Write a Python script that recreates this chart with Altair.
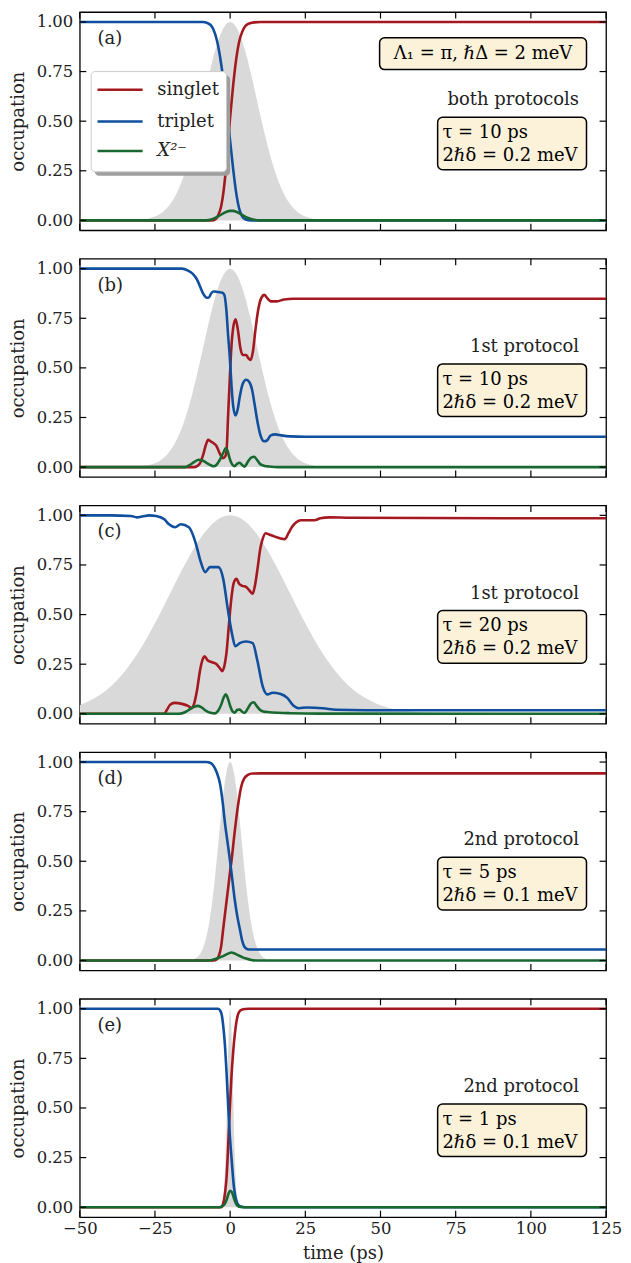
import altair as alt
import pandas as pd

# ---------------- values ----------------
TIME_TICKS = [-50, -25, 0, 25, 50, 75, 100, 125]
OCC_TICKS = [0.0, 0.25, 0.5, 0.75, 1.0]
SERIES = ["singlet", "triplet", "X²⁻"]
COLORS = ["#a3191f", "#0f4f9e", "#17692f"]
PULSE_COLOR = "#d9d9d9"

PANEL_TAGS = ["(a)", "(b)", "(c)", "(d)", "(e)"]
PROTOCOLS = ["both protocols", "1st protocol", "1st protocol", "2nd protocol", "2nd protocol"]
TAUS = ["τ = 10 ps", "τ = 10 ps", "τ = 20 ps", "τ = 5 ps", "τ = 1 ps"]
DELTAS = ["2ℏδ = 0.2 meV", "2ℏδ = 0.2 meV", "2ℏδ = 0.2 meV", "2ℏδ = 0.1 meV", "2ℏδ = 0.1 meV"]
PARAM_TEXT = "Λ₁ = π, ℏΔ = 2 meV"

# ---- panel (a) ----
A_PULSE_T = [-50, -35, -30, -27.5, -25, -22.5, -20, -17.5, -15, -12.5, -10, -7.5, -5, -2.5, 0,
             2.5, 5, 7.5, 10, 12.5, 15, 17.5, 20, 22.5, 25, 27.5, 30, 35, 125]
A_PULSE_V = [0, 0.0005, 0.0035, 0.0086, 0.0197, 0.041, 0.081, 0.146, 0.243, 0.374, 0.533, 0.702, 0.855, 0.961, 1.0,
             0.961, 0.855, 0.702, 0.533, 0.374, 0.243, 0.146, 0.081, 0.041, 0.0197, 0.0086, 0.0035, 0.0005, 0]
A_SING_T = [-50, -6, -5, -4, -3, -2, -1, 0, 1, 2, 3, 4, 5, 6, 8, 10, 125]
A_SING_V = [0, 0, 0.005, 0.025, 0.07, 0.17, 0.33, 0.52, 0.68, 0.81, 0.90, 0.95, 0.978, 0.99, 0.998, 1.0, 1.0]
A_TRIP_T = [-50, -9, -7, -6, -5, -4, -3, -2, -1, 0, 1, 2, 3, 4, 5, 7, 125]
A_TRIP_V = [1.0, 1.0, 0.99, 0.975, 0.94, 0.88, 0.79, 0.68, 0.54, 0.40, 0.26, 0.14, 0.06, 0.02, 0.006, 0.0, 0.0]
A_X_T = [-50, -8, -6, -4, -2, -1, 0, 1, 2, 3, 4, 6, 8, 10, 125]
A_X_V = [0, 0, 0.006, 0.02, 0.038, 0.045, 0.048, 0.048, 0.044, 0.037, 0.028, 0.012, 0.003, 0, 0]

# ---- panel (b) ----
B_PULSE_T = A_PULSE_T
B_PULSE_V = A_PULSE_V
B_SING_T = [-50, -12, -11, -10, -9, -8, -7.3, -6.5, -5.5, -4.5, -3.5, -2.5, -1.6, -1.2, -0.7, -0.1, 0.4,
            1.0, 1.8, 2.6, 3.4, 4.2, 5.3, 6.0, 6.8, 7.6, 8.4, 9.3, 10.3, 11.4, 12.4, 13.5, 15.5, 18, 21, 125]
B_SING_V = [0, 0, 0.005, 0.02, 0.06, 0.115, 0.137, 0.13, 0.12, 0.105, 0.07, 0.045, 0.055, 0.08, 0.25, 0.45, 0.60,
            0.70, 0.745, 0.69, 0.60, 0.565, 0.565, 0.55, 0.54, 0.585, 0.69, 0.79, 0.85, 0.868, 0.85, 0.835, 0.835,
            0.845, 0.848, 0.848]
B_TRIP_T = [-50, -16, -14, -12.5, -11, -10, -9, -8, -7.2, -6.3, -5.5, -4, -2.8, -2, -1.3, -0.7, -0.1, 0.5,
            1.0, 1.8, 2.5, 3.2, 4.2, 5.3, 6.3, 7.3, 8.2, 9.2, 10.2, 11.3, 12.3, 13.5, 15, 17, 20, 25, 125]
B_TRIP_V = [1.0, 1.0, 0.99, 0.975, 0.945, 0.91, 0.875, 0.855, 0.853, 0.875, 0.885, 0.882, 0.88, 0.87, 0.80,
            0.67, 0.55, 0.40, 0.31, 0.26, 0.29, 0.355, 0.42, 0.44, 0.43, 0.39, 0.31, 0.22, 0.155, 0.13, 0.135,
            0.16, 0.165, 0.16, 0.155, 0.153, 0.153]
B_X_T = [-50, -15, -13.5, -12, -10.5, -9.5, -8, -6.5, -5.5, -4.5, -3.3, -2.2, -1.5, -0.9, -0.2, 0.6, 1.5,
         2.4, 3.2, 4.0, 4.8, 5.8, 7.0, 8.0, 9.0, 10.0, 11.5, 13, 16, 125]
B_X_V = [0, 0, 0.01, 0.025, 0.037, 0.035, 0.023, 0.01, 0.004, 0.012, 0.04, 0.075, 0.095, 0.085, 0.045, 0.015,
         0.005, 0.018, 0.022, 0.01, 0.002, 0.025, 0.048, 0.052, 0.035, 0.015, 0.006, 0.003, 0, 0]

# ---- panel (c) ----
C_PULSE_T = [-50, -45, -40, -35, -30, -25, -20, -15, -10, -5, 0, 5, 10, 15, 20, 25, 30, 35, 40, 45, 50,
             55, 60, 65, 70, 80, 125]
C_PULSE_V = [0.043, 0.079, 0.134, 0.215, 0.323, 0.456, 0.605, 0.754, 0.882, 0.969, 1.0, 0.969, 0.882, 0.754,
             0.605, 0.456, 0.323, 0.215, 0.134, 0.079, 0.043, 0.022, 0.011, 0.005, 0.002, 0, 0]
C_SING_T = [-50, -22, -21, -20, -18.5, -16, -14, -12.8, -12, -11, -10, -9, -8.5, -7.5, -6, -4.5, -3.2, -2.6,
            -1.8, -1.2, -0.4, 0.4, 1.2, 2.1, 3.0, 4.0, 5.3, 6.5, 7.5, 8.3, 9.1, 10.0, 10.8, 11.8, 12.8, 14.5,
            16.5, 18.2, 19.4, 20.5, 22, 23.5, 26, 28, 30, 33, 40, 125]
C_SING_V = [0, 0, 0.02, 0.045, 0.055, 0.05, 0.04, 0.03, 0.05, 0.12, 0.22, 0.28, 0.29, 0.27, 0.26, 0.25, 0.225,
            0.215, 0.25, 0.31, 0.45, 0.58, 0.66, 0.68, 0.655, 0.645, 0.64, 0.62, 0.605, 0.65, 0.73, 0.83, 0.88,
            0.91, 0.905, 0.895, 0.885, 0.88, 0.91, 0.94, 0.965, 0.975, 0.975, 0.975, 0.985, 0.99, 0.988, 0.985]
C_TRIP_T = [-50, -40, -33, -31, -29, -27, -24.6, -21.9, -20.3, -18.3, -16.4, -13.7, -11.5, -9.9, -8.3, -6.7,
            -3.9, -2.3, -0.8, 0.66, 1.7, 3.2, 5.3, 7.5, 9.1, 10.8, 12.4, 14.1, 16.8, 19.0, 21.1, 22.8, 25.5,
            30.9, 35.3, 45, 125]
C_TRIP_V = [1.0, 1.0, 0.997, 0.99, 0.995, 1.0, 0.997, 0.98, 0.955, 0.94, 0.955, 0.94, 0.863, 0.772, 0.714,
            0.739, 0.739, 0.68, 0.53, 0.40, 0.34, 0.356, 0.364, 0.356, 0.265, 0.14, 0.098, 0.106, 0.10, 0.08,
            0.04, 0.028, 0.032, 0.028, 0.02, 0.018, 0.018]
C_X_T = [-50, -17, -15, -13.7, -12, -10.8, -9.5, -8, -6.5, -5, -4, -3, -2.2, -1.5, -0.8, 0, 0.8, 1.5, 2.4,
         3.2, 4.0, 4.8, 5.8, 6.8, 7.8, 8.8, 9.8, 11, 13, 16, 20, 30, 125]
C_X_V = [0, 0, 0.008, 0.02, 0.035, 0.04, 0.032, 0.015, 0.005, 0.002, 0.015, 0.045, 0.08, 0.098, 0.08, 0.04,
         0.012, 0.006, 0.02, 0.022, 0.01, 0.004, 0.025, 0.05, 0.058, 0.04, 0.022, 0.012, 0.008, 0.005, 0.003,
         0.001, 0]

# ---- panel (d) ----
D_PULSE_T = [-50, -16, -14, -12, -10, -9, -8, -7, -6, -5, -4, -3, -2, -1, 0, 1, 2, 3, 4, 5, 6, 7, 8, 9,
             10, 12, 14, 16, 125]
D_PULSE_V = [0, 0, 0.002, 0.008, 0.033, 0.063, 0.112, 0.188, 0.292, 0.425, 0.578, 0.735, 0.872, 0.966, 1.0,
             0.966, 0.872, 0.735, 0.578, 0.425, 0.292, 0.188, 0.112, 0.063, 0.033, 0.008, 0.002, 0, 0]
D_SING_T = [-50, -5.5, -4.5, -3.9, -3, -2.3, -1.5, -0.7, 0, 0.65, 1.3, 2.0, 2.8, 3.7, 4.6, 5.9, 7.5, 10, 125]
D_SING_V = [0, 0, 0.005, 0.018, 0.07, 0.16, 0.26, 0.36, 0.45, 0.527, 0.62, 0.71, 0.80, 0.877, 0.915, 0.935,
            0.942, 0.943, 0.943]
D_TRIP_T = [-50, -8, -6.5, -5.5, -4.5, -3.4, -2.5, -1.7, -0.9, -0.1, 0.7, 1.5, 2.3, 3.2, 4.0, 4.8, 5.8, 7,
            10, 125]
D_TRIP_V = [1.0, 1.0, 0.995, 0.98, 0.95, 0.893, 0.80, 0.69, 0.60, 0.51, 0.41, 0.31, 0.23, 0.16, 0.10, 0.068,
            0.057, 0.055, 0.055, 0.055]
D_X_T = [-50, -8, -6, -4.5, -3, -1.7, -0.5, 0.4, 1.5, 2.6, 4, 5.3, 7, 9, 125]
D_X_V = [0, 0, 0.003, 0.01, 0.018, 0.027, 0.036, 0.04, 0.035, 0.027, 0.017, 0.01, 0.003, 0, 0]

# ---- panel (e) ----
E_PULSE_T = [-50, -4, -3.5, -3, -2.5, -2, -1.5, -1, -0.5, 0, 0.5, 1, 1.5, 2, 2.5, 3, 3.5, 4, 125]
E_PULSE_V = [0, 0, 0.001, 0.006, 0.028, 0.101, 0.275, 0.564, 0.867, 1.0, 0.867, 0.564, 0.275, 0.101, 0.028,
             0.006, 0.001, 0, 0]
E_SING_T = [-50, -3, -2.5, -2, -1.6, -1.2, -0.8, -0.4, 0, 0.4, 1, 1.5, 2, 2.6, 3.3, 4.3, 6, 125]
E_SING_V = [0, 0, 0.01, 0.04, 0.085, 0.147, 0.26, 0.40, 0.53, 0.647, 0.78, 0.863, 0.925, 0.97, 0.99, 0.997,
            1.0, 1.0]
E_TRIP_T = [-50, -4, -3.3, -2.8, -2.2, -1.7, -1.2, -0.65, -0.1, 0.4, 0.9, 1.3, 1.8, 2.4, 3, 3.7, 5, 125]
E_TRIP_V = [1.0, 1.0, 0.99, 0.97, 0.90, 0.81, 0.68, 0.51, 0.36, 0.26, 0.16, 0.097, 0.05, 0.02, 0.008, 0.003,
            0, 0]
E_X_T = [-50, -3.5, -3, -2, -1.5, -1, -0.5, 0, 0.5, 1, 1.5, 2, 2.5, 3, 4, 125]
E_X_V = [0, 0, 0.002, 0.012, 0.025, 0.045, 0.07, 0.083, 0.078, 0.058, 0.035, 0.017, 0.007, 0.002, 0, 0]

# ---- annotation anchors (data coordinates) ----
TAG_POS = (-44.1, 0.915)
PROTO_POS = (116.0, 0.605)
BOX_TEXT_X = 70.6
BOX_LINE_Y = [0.44, 0.325]
BOX_X = (69.0, 118.5)
BOX_Y = (0.255, 0.52)
PARAM_BOX_X = (49.7, 118.5)
PARAM_BOX_Y = (0.76, 0.92)
PARAM_POS = (84.1, 0.84)
LEGEND_BOX_X = (-46.2, -1.2)
LEGEND_BOX_Y = (0.245, 0.75)
LEGEND_SHADOW_X = (-45.0, 0.0)
LEGEND_SHADOW_Y = (0.225, 0.73)
LEGEND_LINE_X = (-44.1, -29.1)
LEGEND_ROWS = [0.658, 0.498, 0.35]
LEGEND_TEXT_X = -24.2

# ---------------- chart ----------------
FONT = "DejaVu Serif"
FS = 18
LFS = 16.5
W, H = 528, 219
TICK = 6.5
XSCALE = alt.Scale(domain=[-50, 125], nice=False, zero=False)
YSCALE = alt.Scale(domain=[-0.05, 1.05], nice=False, zero=False)
BOX_FILL = "#fcf2da"


def df(t, v):
    return pd.DataFrame({"t": t, "v": v})


def panel(i, pulse, sing, trip, xm, last=False):
    if last:
        xaxis = alt.Axis(values=TIME_TICKS, format="d", title="time (ps)", labelPadding=3,
                         titlePadding=8, labelFlush=False, labelOverlap=False)
    else:
        xaxis = None
    yaxis = alt.Axis(values=OCC_TICKS, format=".2f", title="occupation", labelPadding=7,
                     titlePadding=9, labelFlush=False)
    X = alt.X("t:Q", scale=XSCALE, axis=xaxis)
    Y = alt.Y("v:Q", scale=YSCALE, axis=yaxis)

    layers = []
    layers.append(alt.Chart(df(*pulse)).mark_area(color=PULSE_COLOR, interpolate="monotone", clip=True)
                  .encode(x=X, y=Y, y2=alt.datum(0)))
    for data, col in zip([sing, trip, xm], COLORS):
        layers.append(alt.Chart(df(*data)).mark_line(color=col, strokeWidth=2.6, interpolate="monotone",
                                                     clip=True).encode(x=X, y=Y))

    # inward ticks on all four sides
    tx = pd.DataFrame({"t": TIME_TICKS})
    ty = pd.DataFrame({"v": OCC_TICKS})
    layers.append(alt.Chart(tx).mark_rule(color="black", strokeWidth=1.2)
                  .encode(x=X, y=alt.value(H), y2=alt.value(H - TICK)))
    layers.append(alt.Chart(tx).mark_rule(color="black", strokeWidth=1.2)
                  .encode(x=X, y=alt.value(0), y2=alt.value(TICK)))
    layers.append(alt.Chart(ty).mark_rule(color="black", strokeWidth=1.2)
                  .encode(y=Y, x=alt.value(0), x2=alt.value(TICK)))
    layers.append(alt.Chart(ty).mark_rule(color="black", strokeWidth=1.2)
                  .encode(y=Y, x=alt.value(W), x2=alt.value(W - TICK)))

    # parameter box
    box = pd.DataFrame({"t": [BOX_X[0]], "t2": [BOX_X[1]], "v": [BOX_Y[0]], "v2": [BOX_Y[1]]})
    layers.append(alt.Chart(box).mark_rect(fill=BOX_FILL, stroke="black", strokeWidth=1.5, cornerRadius=5)
                  .encode(x=X, x2="t2:Q", y=Y, y2="v2:Q"))
    lines = pd.DataFrame({"t": [BOX_TEXT_X, BOX_TEXT_X], "v": BOX_LINE_Y, "label": [TAUS[i], DELTAS[i]]})
    layers.append(alt.Chart(lines).mark_text(align="left", baseline="middle", fontSize=FS, font=FONT,
                                             color="black").encode(x=X, y=Y, text="label:N"))
    proto = pd.DataFrame({"t": [PROTO_POS[0]], "v": [PROTO_POS[1]], "label": [PROTOCOLS[i]]})
    layers.append(alt.Chart(proto).mark_text(align="right", baseline="middle", fontSize=FS, font=FONT,
                                             color="#222222").encode(x=X, y=Y, text="label:N"))
    tag = pd.DataFrame({"t": [TAG_POS[0]], "v": [TAG_POS[1]], "label": [PANEL_TAGS[i]]})
    layers.append(alt.Chart(tag).mark_text(align="left", baseline="middle", fontSize=FS, font=FONT,
                                           color="#222222").encode(x=X, y=Y, text="label:N"))

    if i == 0:
        pbox = pd.DataFrame({"t": [PARAM_BOX_X[0]], "t2": [PARAM_BOX_X[1]],
                             "v": [PARAM_BOX_Y[0]], "v2": [PARAM_BOX_Y[1]]})
        layers.append(alt.Chart(pbox).mark_rect(fill=BOX_FILL, stroke="black", strokeWidth=1.5,
                                                cornerRadius=5).encode(x=X, x2="t2:Q", y=Y, y2="v2:Q"))
        ptxt = pd.DataFrame({"t": [PARAM_POS[0]], "v": [PARAM_POS[1]], "label": [PARAM_TEXT]})
        layers.append(alt.Chart(ptxt).mark_text(align="center", baseline="middle", fontSize=FS, font=FONT,
                                                color="black").encode(x=X, y=Y, text="label:N"))
        # legend
        sh = pd.DataFrame({"t": [LEGEND_SHADOW_X[0]], "t2": [LEGEND_SHADOW_X[1]],
                           "v": [LEGEND_SHADOW_Y[0]], "v2": [LEGEND_SHADOW_Y[1]]})
        layers.append(alt.Chart(sh).mark_rect(fill="#9e9e9e", cornerRadius=4)
                      .encode(x=X, x2="t2:Q", y=Y, y2="v2:Q"))
        lb = pd.DataFrame({"t": [LEGEND_BOX_X[0]], "t2": [LEGEND_BOX_X[1]],
                           "v": [LEGEND_BOX_Y[0]], "v2": [LEGEND_BOX_Y[1]]})
        layers.append(alt.Chart(lb).mark_rect(fill="white", stroke="#cccccc", strokeWidth=1, cornerRadius=4)
                      .encode(x=X, x2="t2:Q", y=Y, y2="v2:Q"))
        for name, col, row in zip(SERIES, COLORS, LEGEND_ROWS):
            seg = pd.DataFrame({"t": [LEGEND_LINE_X[0]], "t2": [LEGEND_LINE_X[1]], "v": [row]})
            layers.append(alt.Chart(seg).mark_rule(color=col, strokeWidth=2.6)
                          .encode(x=X, x2="t2:Q", y=Y))
            lab = pd.DataFrame({"t": [LEGEND_TEXT_X], "v": [row], "label": [name]})
            style = "italic" if name.startswith("X") else "normal"
            layers.append(alt.Chart(lab).mark_text(align="left", baseline="middle", fontSize=FS, font=FONT,
                                                   fontStyle=style, color="#222222")
                          .encode(x=X, y=Y, text="label:N"))

    return alt.layer(*layers).properties(width=W, height=H)


panels = [
    panel(0, (A_PULSE_T, A_PULSE_V), (A_SING_T, A_SING_V), (A_TRIP_T, A_TRIP_V), (A_X_T, A_X_V)),
    panel(1, (B_PULSE_T, B_PULSE_V), (B_SING_T, B_SING_V), (B_TRIP_T, B_TRIP_V), (B_X_T, B_X_V)),
    panel(2, (C_PULSE_T, C_PULSE_V), (C_SING_T, C_SING_V), (C_TRIP_T, C_TRIP_V), (C_X_T, C_X_V)),
    panel(3, (D_PULSE_T, D_PULSE_V), (D_SING_T, D_SING_V), (D_TRIP_T, D_TRIP_V), (D_X_T, D_X_V)),
    panel(4, (E_PULSE_T, E_PULSE_V), (E_SING_T, E_SING_V), (E_TRIP_T, E_TRIP_V), (E_X_T, E_X_V), last=True),
]

chart = (
    alt.vconcat(*panels, spacing=24.5)
    .properties(padding={"left": 0, "top": 0, "right": 0, "bottom": 0})
    .configure_view(stroke="black", strokeWidth=1.3)
    .configure_axis(labelFont=FONT, titleFont=FONT, labelFontSize=LFS, titleFontSize=FS,
                    labelColor="#222222", titleColor="#222222", titleFontWeight="normal",
                    grid=False, domain=False, ticks=False, tickSize=0)
)

chart.save("out.html", embed_options={"renderer": "svg", "actions": False})
